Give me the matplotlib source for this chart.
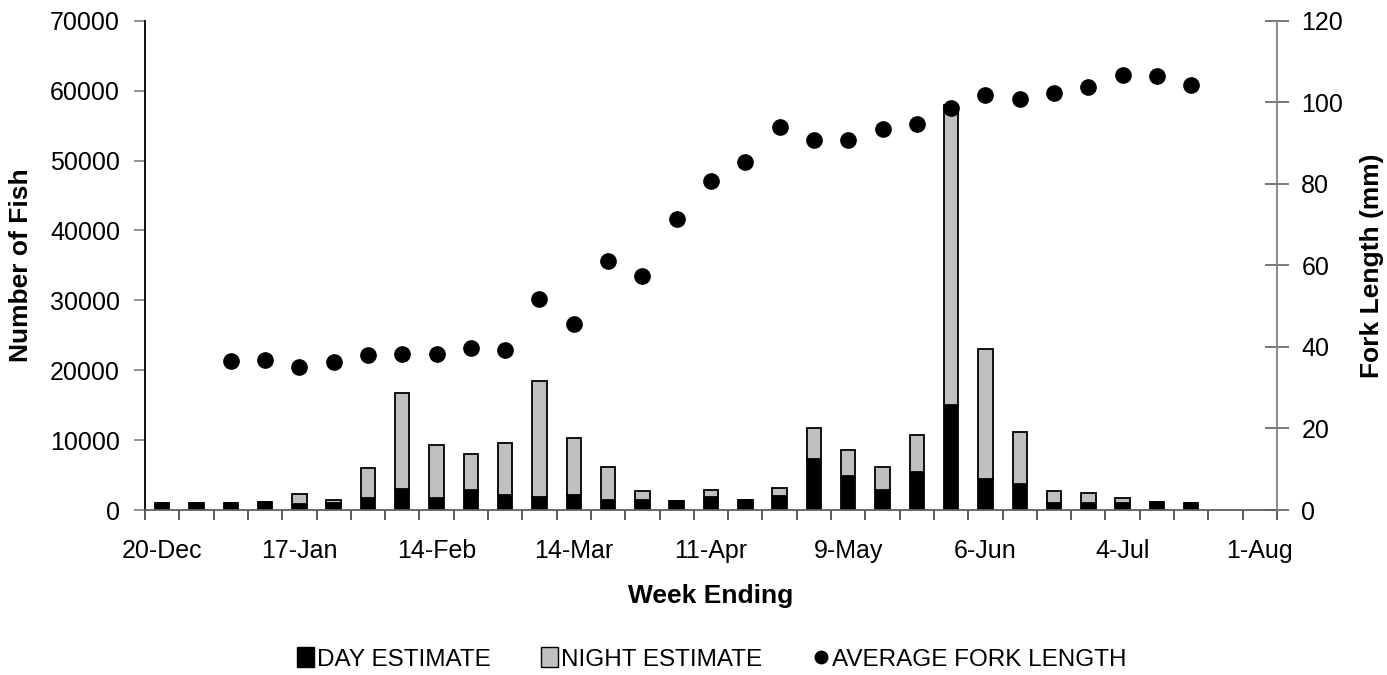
import numpy as np
import matplotlib
matplotlib.use('Agg')
import matplotlib.pyplot as plt
from matplotlib.patches import Patch
from matplotlib.lines import Line2D

plt.rcParams['font.family'] = ['Liberation Sans', 'DejaVu Sans']

# week ending dates (category axis)
weeks = ['20-Dec', '27-Dec', '3-Jan', '10-Jan', '17-Jan', '24-Jan', '31-Jan',
         '7-Feb', '14-Feb', '21-Feb', '28-Feb', '7-Mar', '14-Mar', '21-Mar',
         '28-Mar', '4-Apr', '11-Apr', '18-Apr', '25-Apr', '2-May', '9-May',
         '16-May', '23-May', '30-May', '6-Jun', '13-Jun', '20-Jun', '27-Jun',
         '4-Jul', '11-Jul', '18-Jul', '25-Jul', '1-Aug']

day_est = [1000, 1000, 1000, 1100, 900, 1000, 1700, 3000, 1700, 2800, 2200,
           1900, 2100, 1400, 1500, 1300, 1800, 1500, 2000, 7300, 4800, 2800,
           5400, 15000, 4500, 3700, 1000, 1000, 1000, 1200, 1000]
night_est = [0, 0, 0, 0, 1400, 400, 4300, 13700, 7600, 5200, 7400,
             16500, 8200, 4800, 1200, 0, 1100, 0, 1200, 4400, 3800, 3400,
             5300, 43000, 18500, 7400, 1700, 1400, 700, 0, 0]
fork_len = [np.nan, np.nan, 36.5, 36.8, 35.1, 36.3, 38.0, 38.3, 38.3, 39.7,
            39.2, 51.8, 45.6, 61.1, 57.4, 71.4, 80.7, 85.4, 93.9, 90.8, 90.8,
            93.5, 94.7, 98.6, 101.8, 100.8, 102.3, 103.8, 106.7, 106.4, 104.2]

W, H = 1387, 675
fig = plt.figure(figsize=(W / 100, H / 100), dpi=100)
ax = fig.add_axes([145 / W, 1 - 510 / H, (1277 - 145) / W, (510 - 20.7) / H])

x = np.arange(len(day_est)) + 0.5
ax.bar(x, day_est, width=0.42, color='black', edgecolor='black', linewidth=1.3)
ax.bar(x, night_est, bottom=day_est, width=0.42, color='#C0C0C0',
       edgecolor='black', linewidth=1.3)

ax.set_xlim(0, len(weeks))
ax.set_ylim(0, 70000)
ax.set_yticks(np.arange(0, 70001, 10000))
ax.set_xticks(np.arange(0, len(weeks), 4) + 0.5, weeks[::4])
ax.set_xticks(np.arange(len(weeks) + 1), minor=True)
ax.tick_params(axis='x', which='major', length=0, pad=21, labelsize=18)
ax.tick_params(axis='x', which='minor', length=7, width=1.2, color='#404040')
ax.tick_params(axis='y', length=8, width=1.2, color='#808080', pad=10,
               labelsize=18)

for side in ['top', 'right']:
    ax.spines[side].set_visible(False)
ax.spines['left'].set_color('black')
ax.spines['left'].set_linewidth(1.3)
ax.spines['bottom'].set_color('#606060')
ax.spines['bottom'].set_linewidth(1.3)

ax.set_xlabel('Week Ending', fontsize=19, fontweight='bold', labelpad=15)
ax.set_ylabel('Number of Fish', fontsize=19, fontweight='bold', labelpad=12)

# average fork length on secondary axis
ax2 = ax.twinx()
ax2.plot(x, fork_len, 'o', color='black', markersize=11)
ax2.set_ylim(0, 120)
ax2.set_yticks(np.arange(0, 121, 20))
ax2.tick_params(axis='y', direction='inout', length=17, width=1.2,
                color='#606060', pad=9, labelsize=18)
for side in ['top', 'left', 'bottom']:
    ax2.spines[side].set_visible(False)
ax2.spines['right'].set_color('#808080')
ax2.spines['right'].set_linewidth(1.3)
ax2.set_ylabel('Fork Length (mm)', fontsize=19, fontweight='bold',
               labelpad=12)

handles = [Patch(facecolor='black', edgecolor='black'),
           Patch(facecolor='#C0C0C0', edgecolor='black'),
           Line2D([], [], marker='o', color='black', linestyle='none',
                  markersize=9)]
fig.legend(handles, ['DAY ESTIMATE', 'NIGHT ESTIMATE', 'AVERAGE FORK LENGTH'],
           loc='center', bbox_to_anchor=(712 / W, 1 - 659 / H), ncol=3,
           frameon=False, fontsize=17.5, handlelength=0.7, handleheight=0.9,
           handletextpad=0.1, columnspacing=2.1)

fig.savefig('out.png', dpi=100)
